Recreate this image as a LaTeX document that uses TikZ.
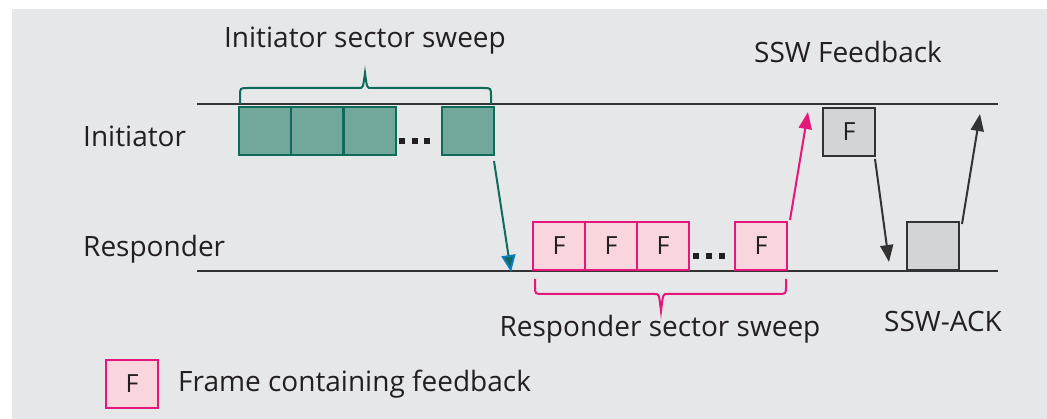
\documentclass[tikz,border=0pt]{standalone}
\usepackage{fontspec}
\setmainfont{Open Sans}
\usetikzlibrary{arrows.meta}
\definecolor{bggray}{HTML}{E6E7E9}
\definecolor{txt}{HTML}{231F20}
\definecolor{lineg}{HTML}{333333}
\definecolor{grnfill}{HTML}{72A89C}
\definecolor{grnline}{HTML}{0E6B5A}
\definecolor{pnkfill}{HTML}{F9D5DE}
\definecolor{pnkline}{HTML}{E6177A}
\definecolor{gryfill}{HTML}{D3D4D6}
\definecolor{tipblue}{HTML}{0A7DBE}
\tikzset{
  frame/.style={draw, line width=2pt, minimum width=52pt, minimum height=48pt,
    inner sep=0pt, anchor=north west, font=\fontsize{25}{25}\selectfont, text=txt},
  initbox/.style={frame, draw=grnline, fill=grnfill},
  respbox/.style={frame, draw=pnkline, fill=pnkfill},
  graybox/.style={frame, draw=lineg, fill=gryfill},
  lbl/.style={font=\fontsize{28}{28}\selectfont, text=txt, inner sep=0pt, anchor=base},
  timeline/.style={draw=lineg, line width=2pt},
  msg/.style={line width=2pt, -{Triangle[length=17pt,width=13pt]}},
  dot/.style={fill=txt},
}
\begin{document}
\begin{tikzpicture}[x=1pt,y=-1pt]
\useasboundingbox (0,0) rectangle (1047,419);
\fill[white] (0,0) rectangle (1047,419);
\fill[bggray] (12,9) rectangle (1047,419);

% time lines
\draw[timeline] (197,104) -- (998,104);
\draw[timeline] (197,271) -- (998,271);

% side labels
\node[lbl, anchor=base west] (linit) at (83,147) {Initiator};
\node[lbl, anchor=base west] (lresp) at (83,257) {Responder};

% initiator sector sweep frames
\node[initbox] (i1) at (238,106) {};
\node[initbox] (i2) at (290,106) {};
\node[initbox] (i3) at (343,106) {};
\node[initbox] (i4) at (441,106) {};
\fill[dot] (399,138) rectangle ++(6,6);
\fill[dot] (412,138) rectangle ++(6,6);
\fill[dot] (424,138) rectangle ++(6,6);

% brace over initiator sweep
\draw[grnline, line width=2pt]
  (240,104) -- (240,96) .. controls (240,88) .. (248,88) -- (359,88)
  .. controls (363,88) .. (365,73) .. controls (367,88) .. (371,88)
  -- (483,88) .. controls (491,88) .. (491,96) -- (491,104);
\node[lbl] (tis) at (365,48) {Initiator sector sweep};

% responder sector sweep frames
\node[respbox] (r1) at (532,221) {F};
\node[respbox] (r2) at (584,221) {F};
\node[respbox] (r3) at (636,221) {F};
\node[respbox] (r4) at (734,221) {F};
\fill[dot] (693,253) rectangle ++(6,6);
\fill[dot] (706,253) rectangle ++(6,6);
\fill[dot] (719,253) rectangle ++(6,6);

% brace under responder sweep
\draw[pnkline, line width=2pt]
  (535,279) -- (535,286) .. controls (535,294) .. (543,294) -- (655,294)
  .. controls (659,294) .. (661,311) .. controls (663,294) .. (667,294)
  -- (778,294) .. controls (786,294) .. (786,286) -- (786,279);
\node[lbl] (trs) at (660,337) {Responder sector sweep};

% feedback and acknowledgement frames
\node[graybox] (fb) at (822,107) {F};
\node[graybox] (ack) at (906,221) {};
\node[lbl] (tfb) at (848,63) {SSW Feedback};
\node[lbl] (tack) at (943,332) {SSW-ACK};

% message arrows
\coordinate (rin) at (511,272);
\coordinate (fbin) at (808,112);
\coordinate (ackin) at (889,262);
\coordinate (ackout) at (980,114);
\draw[msg, grnline, -{Triangle[length=17pt,width=14pt,fill=grnline,color=tipblue,line width=2pt]}]
  ([shift={(-1,5)}]i4.south east) -- (rin);
\draw[msg, pnkline] ([shift={(2,-1)}]r4.north east) -- (fbin);
\draw[msg, lineg] ([shift={(-1,2)}]fb.south east) -- (ackin);
\draw[msg, lineg] ([shift={(2,3)}]ack.north east) -- (ackout);

% legend
\node[respbox] (leg) at (105,359) {F};
\node[lbl, anchor=base west] (tleg) at (178,392) {Frame containing feedback};
\end{tikzpicture}
\end{document}
